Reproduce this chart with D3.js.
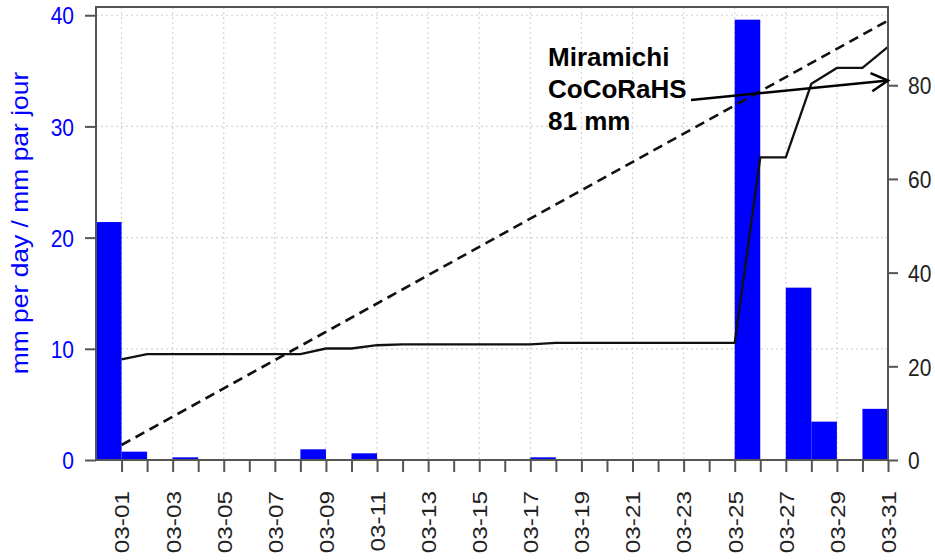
<!DOCTYPE html>
<html><head><meta charset="utf-8">
<script src="https://cdn.jsdelivr.net/npm/d3@7"></script>
<style>body{margin:0;background:#fff}svg{display:block}text{font-family:"Liberation Sans",Arial,sans-serif}</style>
</head><body><svg id="c" width="935" height="560"></svg>
<script>
// ---- data ----
const dayLabels = ["03-01","03-02","03-03","03-04","03-05","03-06","03-07","03-08","03-09","03-10","03-11","03-12","03-13","03-14","03-15","03-16","03-17","03-18","03-19","03-20","03-21","03-22","03-23","03-24","03-25","03-26","03-27","03-28","03-29","03-30","03-31"];
const tickLabelDays = ["03-01","03-03","03-05","03-07","03-09","03-11","03-13","03-15","03-17","03-19","03-21","03-23","03-25","03-27","03-29","03-31"];
// daily precipitation (bar ends on its date)
const barDays   = ["03-01","03-02","03-04","03-09","03-11","03-18","03-26","03-28","03-29","03-31"];
const barValues = [21.4, 0.75, 0.24, 0.96, 0.6, 0.24, 39.6, 15.5, 3.45, 4.6];
// cumulative observed (right axis)
const cumValues = [21.5,22.6,22.6,22.6,22.6,22.6,22.6,22.6,23.8,23.8,24.5,24.7,24.7,24.7,24.7,24.7,24.7,25.0,25.0,25.0,25.0,25.0,25.0,25.0,25.0,64.6,64.6,80.3,83.7,83.7,88.2];
// cumulative normal (dashed)
const normalDays = ["03-01","03-31"];
const normalValues = [3.2, 93.8];
const leftTicks = [0,10,20,30,40];
const rightTicks = [0,20,40,60,80];
const annotLines = ["Miramichi","CoCoRaHS","81 mm"];
const annotValue = 81;
const yTitle = "mm per day / mm par jour";

// ---- layout ----
const L = 96, R = 888, T = 7, B = 460;
const svg = d3.select("#c");
const toDate = s => new Date(Date.UTC(2023, +s.slice(0,2)-1, +s.slice(3)));
const x = d3.scaleUtc().domain([new Date(Date.UTC(2023,1,28)), toDate("03-31")]).range([L, R]);
const yL = d3.scaleLinear().domain([0, 40.74]).range([B, T]);
const yR = d3.scaleLinear().domain([0, 96.7]).range([B, T]);
const oneDay = 864e5;

// grid
const g = svg.append("g");
g.selectAll("line.vg").data(tickLabelDays).join("line")
  .attr("x1", d => x(toDate(d))).attr("x2", d => x(toDate(d)))
  .attr("y1", T).attr("y2", B)
  .attr("stroke", "#d4d4d4").attr("stroke-width", 1.2).attr("stroke-dasharray", "2,3");
g.selectAll("line.hg").data(leftTicks.filter(v => v > 0)).join("line")
  .attr("x1", L).attr("x2", R)
  .attr("y1", d => yL(d)).attr("y2", d => yL(d))
  .attr("stroke", "#d4d4d4").attr("stroke-width", 1.2).attr("stroke-dasharray", "2,3");

// bars
svg.selectAll("rect.bar").data(barDays.map((d,i)=>({d, v: barValues[i]}))).join("rect")
  .attr("x", d => x(new Date(toDate(d.d) - oneDay)))
  .attr("width", d => x(toDate(d.d)) - x(new Date(toDate(d.d) - oneDay)))
  .attr("y", d => yL(d.v)).attr("height", d => B - yL(d.v))
  .attr("fill", "#0000ff");

// normal dashed line
svg.append("path")
  .datum(normalDays.map((d,i)=>[toDate(d), normalValues[i]]))
  .attr("d", d3.line().x(d => x(d[0])).y(d => yR(d[1])))
  .attr("fill", "none").attr("stroke", "#111").attr("stroke-width", 2.6).attr("stroke-dasharray", "10,6");

// cumulative line
svg.append("path")
  .datum(dayLabels.map((d,i)=>[toDate(d), cumValues[i]]))
  .attr("d", d3.line().x(d => x(d[0])).y(d => yR(d[1])))
  .attr("fill", "none").attr("stroke", "#111").attr("stroke-width", 2.3);

// box
svg.append("rect").attr("x", L).attr("y", T).attr("width", R-L).attr("height", B-T)
  .attr("fill", "none").attr("stroke", "#555").attr("stroke-width", 2);

// left axis
const axL = svg.append("g").attr("transform", `translate(${L},0)`)
  .call(d3.axisLeft(yL).tickValues(leftTicks).tickSize(11).tickPadding(0).tickSizeOuter(0));
axL.select(".domain").remove();
axL.selectAll("line").attr("stroke", "#555").attr("stroke-width", 2);
axL.selectAll("text").attr("x", -22).attr("y", 0).attr("dy", "0.36em").attr("fill", "#0000ff")
  .attr("font-size", 21).attr("transform", "scale(1,1.15)");

// right axis
const axR = svg.append("g").attr("transform", `translate(${R},0)`)
  .call(d3.axisRight(yR).tickValues(rightTicks).tickSize(10).tickSizeOuter(0));
axR.select(".domain").remove();
axR.selectAll("line").attr("stroke", "#555").attr("stroke-width", 2);
axR.selectAll("text").attr("x", 20).attr("dy", "0.36em").attr("fill", "#222")
  .attr("font-size", 21).attr("transform", "scale(1,1.15)");

// bottom axis
const axB = svg.append("g").attr("transform", `translate(0,${B})`)
  .call(d3.axisBottom(x).tickValues(dayLabels.map(toDate)).tickSize(12).tickSizeOuter(0)
    .tickFormat(d => { const s = d3.utcFormat("%m-%d")(d); return tickLabelDays.includes(s) ? s : ""; }));
axB.select(".domain").remove();
axB.selectAll("line").attr("stroke", "#555").attr("stroke-width", 2);
axB.selectAll("text").attr("fill", "#222").attr("font-size", 21)
  .attr("text-anchor", "end").attr("x", 0).attr("y", 0).attr("dy", "0.35em")
  .attr("transform", "translate(0,31) rotate(-90) scale(1.16,1)");

// y title
svg.append("text").attr("transform", "translate(20,223) rotate(-90) scale(1.15,1)")
  .attr("text-anchor", "middle").attr("dy", "0.35em").attr("fill", "#0000ff")
  .attr("font-size", 23).text(yTitle);

// annotation
const ann = svg.append("g");
ann.selectAll("text").data(annotLines).join("text")
  .attr("x", 548).attr("y", (d,i) => 66 + i*32)
  .attr("font-size", 26).attr("font-weight", "bold").attr("fill", "#000").text(d => d);
const tipX = x(toDate("03-31")), tipY = yR(annotValue);
const sx = 691, sy = 100;
ann.append("line").attr("x1", sx).attr("y1", sy).attr("x2", tipX).attr("y2", tipY)
  .attr("stroke", "#000").attr("stroke-width", 2.5);
const ang = Math.atan2(tipY - sy, tipX - sx), hl = 19, ha = 0.5;
ann.append("path")
  .attr("d", `M${tipX - hl*Math.cos(ang - ha)},${tipY - hl*Math.sin(ang - ha)} L${tipX},${tipY} L${tipX - hl*Math.cos(ang + ha)},${tipY - hl*Math.sin(ang + ha)}`)
  .attr("fill", "none").attr("stroke", "#000").attr("stroke-width", 2.5);
</script></body></html>
